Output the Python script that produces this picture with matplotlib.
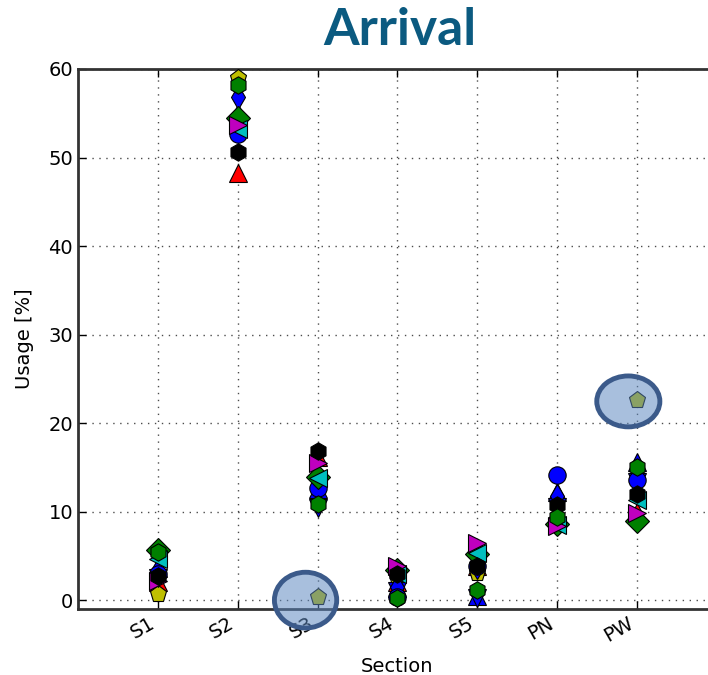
import matplotlib
matplotlib.use('Agg')
import matplotlib.pyplot as plt
from matplotlib.patches import Ellipse

# --- Data ---
sections = ['S1', 'S2', 'S3', 'S4', 'S5', 'PN', 'PW']

# one list per participant, values in % for S1..PW
blue_circle = [3.0, 52.6, 12.7, 0.3, 3.8, 14.1, 13.6]
green_hex = [5.4, 58.2, 10.9, 0.2, 1.1, 9.4, 15.0]
yellow_pent = [0.7, 59.0, 0.3, 2.5, 3.1, 9.0, 22.6]
blue_thin_diamond = [3.4, 56.8, 12.7, 1.5, 3.7, 11.8, 13.6]
green_diamond = [5.7, 54.5, 13.9, 3.4, 5.2, 8.6, 8.9]
magenta_right = [2.2, 53.7, 15.5, 3.8, 6.4, 8.4, 9.8]
cyan_left = [4.6, 53.2, 13.8, 3.0, 5.3, 8.5, 11.3]
black_hex = [2.7, 50.6, 16.9, 2.9, 3.9, 10.8, 12.0]
red_up = [2.0, 48.2, 16.2, 2.1, 3.9, 9.5, 10.0]
blue_up = [3.6, 55.0, 12.5, 1.4, 0.5, 12.2, 15.6]
blue_down = [2.5, 53.0, 10.4, 1.0, 0.2, 10.5, 13.4]

# drawing order: first is at the bottom
series = [
    (red_up, '^', 'r'),
    (yellow_pent, 'p', 'y'),
    (blue_up, '^', 'b'),
    (blue_down, 'v', 'b'),
    (blue_thin_diamond, 'd', 'b'),
    (blue_circle, 'o', 'b'),
    (green_diamond, 'D', 'g'),
    (cyan_left, '<', 'c'),
    (magenta_right, '>', 'm'),
    (black_hex, 'h', 'k'),
    (green_hex, 'h', 'g'),
]

# old matplotlib single letter colours
old_colors = {'b': (0, 0, 1), 'g': (0, 0.5, 0), 'r': (1, 0, 0), 'c': (0, 0.75, 0.75),
              'm': (0.75, 0, 0.75), 'y': (0.75, 0.75, 0), 'k': (0, 0, 0)}

fig = plt.figure(figsize=(7.08, 6.75), dpi=100)
# the right edge of the axes sits just outside the picture (cropped original)
ax = fig.add_axes([0.110, 0.0978, 0.9027, 0.80])

x = list(range(1, len(sections) + 1))
for vals, marker, col in series:
    ax.plot(x, vals, linestyle='none', marker=marker, markersize=12.5,
            markerfacecolor=old_colors[col], markeredgecolor='black',
            markeredgewidth=0.8, zorder=3)

ax.set_xlim(0, 8)
ax.set_ylim(-1, 60)
ax.set_xticks(x)
ax.set_xticklabels(sections, rotation=30, ha='right', fontsize=14)
ax.set_yticks(range(0, 61, 10))
ax.tick_params(axis='y', labelsize=14)
ax.tick_params(direction='in', length=6, width=1, top=True, right=True)
ax.grid(True, linestyle=(0, (1, 4)), color='black', linewidth=1, alpha=0.7)
ax.set_axisbelow(True)
for sp in ax.spines.values():
    sp.set_linewidth(2)
    sp.set_color('#333333')

ax.set_xlabel('Section', fontsize=14, labelpad=8)
ax.set_ylabel('Usage [%]', fontsize=14, labelpad=10)

# highlight ellipses
for cx, cy, w, h in [(2.85, 0.0, 0.78, 6.3), (6.89, 22.45, 0.79, 5.75)]:
    ax.add_patch(Ellipse((cx, cy), w, h, facecolor=(0.36, 0.53, 0.75, 0.53),
                         edgecolor='#3b5a8a', linewidth=3.5, zorder=5, clip_on=False))

fig.text(0.565, 0.955, 'Arrival', ha='center', va='center', fontsize=37,
         fontweight='bold', color='#0b5a80', family='Lato')

fig.savefig('out.png', dpi=100)
